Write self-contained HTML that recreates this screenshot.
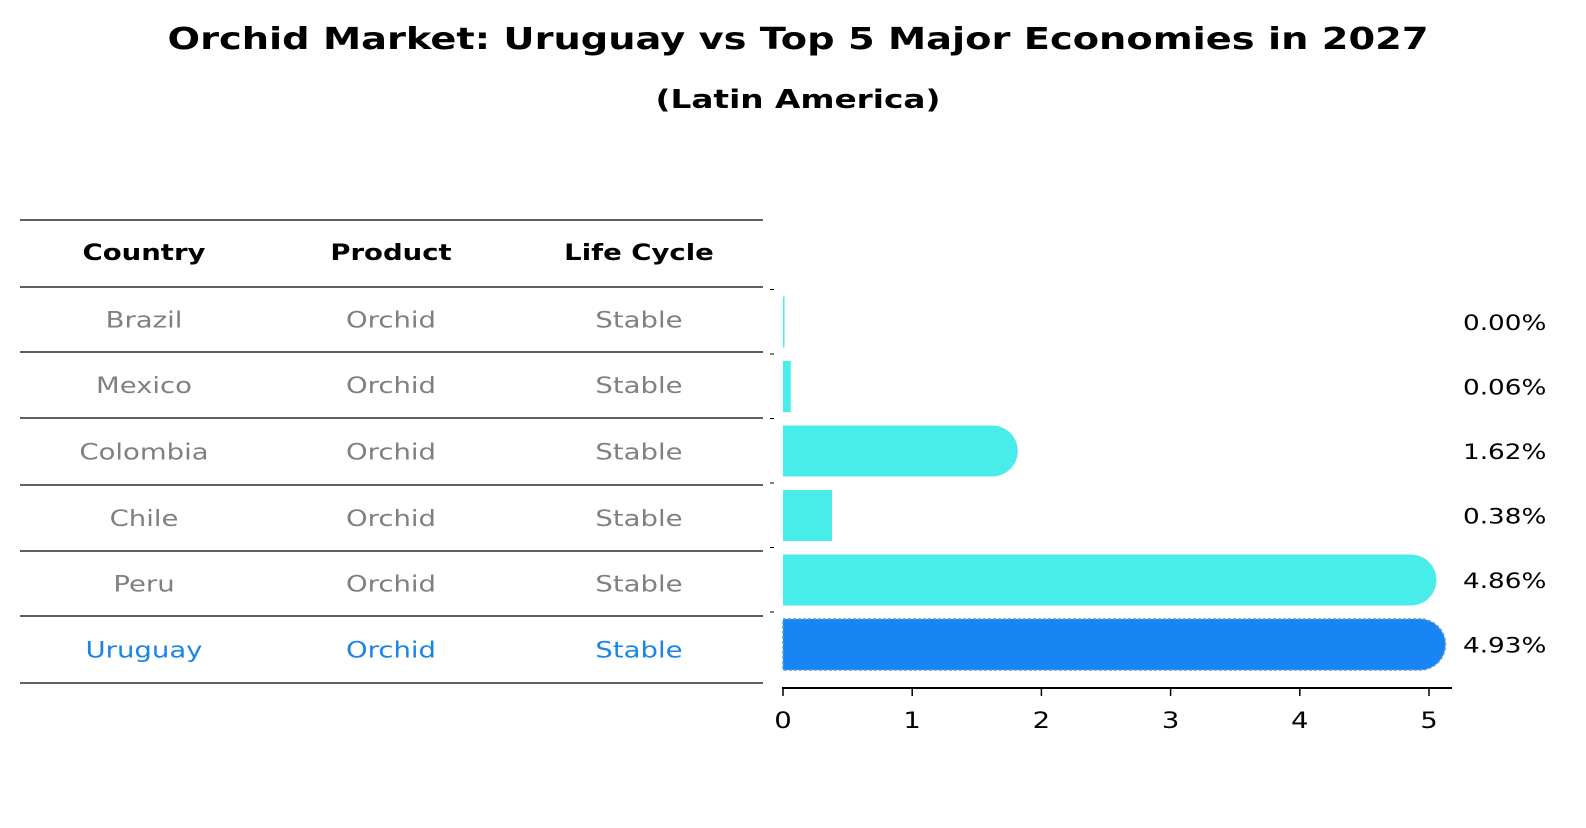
<!DOCTYPE html>
<html><head><meta charset="utf-8"><style>
body{margin:0;background:#fff;font-family:"Liberation Sans","DejaVu Sans",sans-serif}
svg text{font-family:"DejaVu Sans","Liberation Sans",sans-serif}
</style></head><body>
<svg width="1586" height="823" xmlns="http://www.w3.org/2000/svg">
<text x="798" y="49" text-anchor="middle" font-size="30" font-weight="bold" textLength="1261" lengthAdjust="spacingAndGlyphs">Orchid Market: Uruguay vs Top 5 Major Economies in 2027</text>
<text x="798" y="108" text-anchor="middle" font-size="26" font-weight="bold" textLength="285" lengthAdjust="spacingAndGlyphs">(Latin America)</text>
<g id="table"></g>
<g id="bars"></g>
</svg>
<script>
const countries=["Brazil","Mexico","Colombia","Chile","Peru","Uruguay"];
const products=["Orchid","Orchid","Orchid","Orchid","Orchid","Orchid"];
const lifeCycles=["Stable","Stable","Stable","Stable","Stable","Stable"];
const values=[0.00,0.06,1.62,0.38,4.86,4.93];
const valueLabels=["0.00%","0.06%","1.62%","0.38%","4.86%","4.93%"];
const xTicks=[0,1,2,3,4,5];
const NS="http://www.w3.org/2000/svg";
function mk(tag,attrs,parent){const e=document.createElementNS(NS,tag);for(const k in attrs)e.setAttribute(k,attrs[k]);parent.appendChild(e);return e;}
const stretchList=[];
function stretch(t){stretchList.push(t);}
const x=v=>783+v*129.2;
const rowY=i=>322+i*64.5;
const T=document.getElementById('table'),B=document.getElementById('bars');
const lineYs=[220,287,352,418,485,551,616,683];
lineYs.forEach(y=>{const l=mk('line',{x1:20,x2:763,y1:y,y2:y,stroke:'#000','stroke-width':1.2},T);

});
const colX=[144,391,639];
["Country","Product","Life Cycle"].forEach((h,j)=>{const t=mk('text',{x:colX[j],y:260,'text-anchor':'middle','font-size':22,'font-weight':'bold'},T);t.textContent=h;

stretch(t);});
countries.forEach((c,i)=>{
 const cy=(lineYs[i+1]+lineYs[i+2])/2+8;
 const col=c==="Uruguay"?"#1a85e8":"#808080";
 [c,products[i],lifeCycles[i]].forEach((s,j)=>{const t=mk('text',{x:colX[j],y:cy,'text-anchor':'middle','font-size':22,fill:col},T);t.textContent=s;
 
 stretch(t);});
});
const h=51;
values.forEach((v,i)=>{
 const y0=rowY(i)-h/2, x1=x(v);
 const col=countries[i]==="Uruguay"?"#1985f5":"#48ece8";
 let d;
 if(v>1){const r=h/2;d=`M783 ${y0} H${x1} a${r} ${r} 0 0 1 0 ${h} H783 Z`;}
 else d=`M783 ${y0} H${783+Math.max(x1-783,1.5)} V${y0+h} H783 Z`;
 const p=mk('path',{d:d,fill:col},B);
 
 
 if(countries[i]==="Uruguay"){const o=mk('path',{d:d,fill:'none',stroke:'#5a9ad8','stroke-width':1.5,'stroke-dasharray':'3 2'},B);
  
  }
 const t=mk('text',{x:1463,y:rowY(i)+8,'font-size':21},B);t.textContent=valueLabels[i];
 
 stretch(t);
 const tk=mk('line',{x1:770,x2:774,y1:y0-7,y2:y0-7,stroke:'#000','stroke-width':1},B);
 
 
});
const ax=mk('line',{x1:782,x2:1452,y1:688,y2:688,stroke:'#000','stroke-width':2},B);


xTicks.forEach(v=>{const l=mk('line',{x1:x(v),x2:x(v),y1:688,y2:696,stroke:'#000','stroke-width':1.5},B);


const t=mk('text',{x:x(v),y:728,'text-anchor':'middle','font-size':22},B);t.textContent=v;

stretch(t);});
stretchList.forEach(t=>{try{const w=t.getComputedTextLength();if(w>0){t.setAttribute('textLength',(w*1.25).toFixed(1));t.setAttribute('lengthAdjust','spacingAndGlyphs');}}catch(e){}});
</script>
</body></html>
